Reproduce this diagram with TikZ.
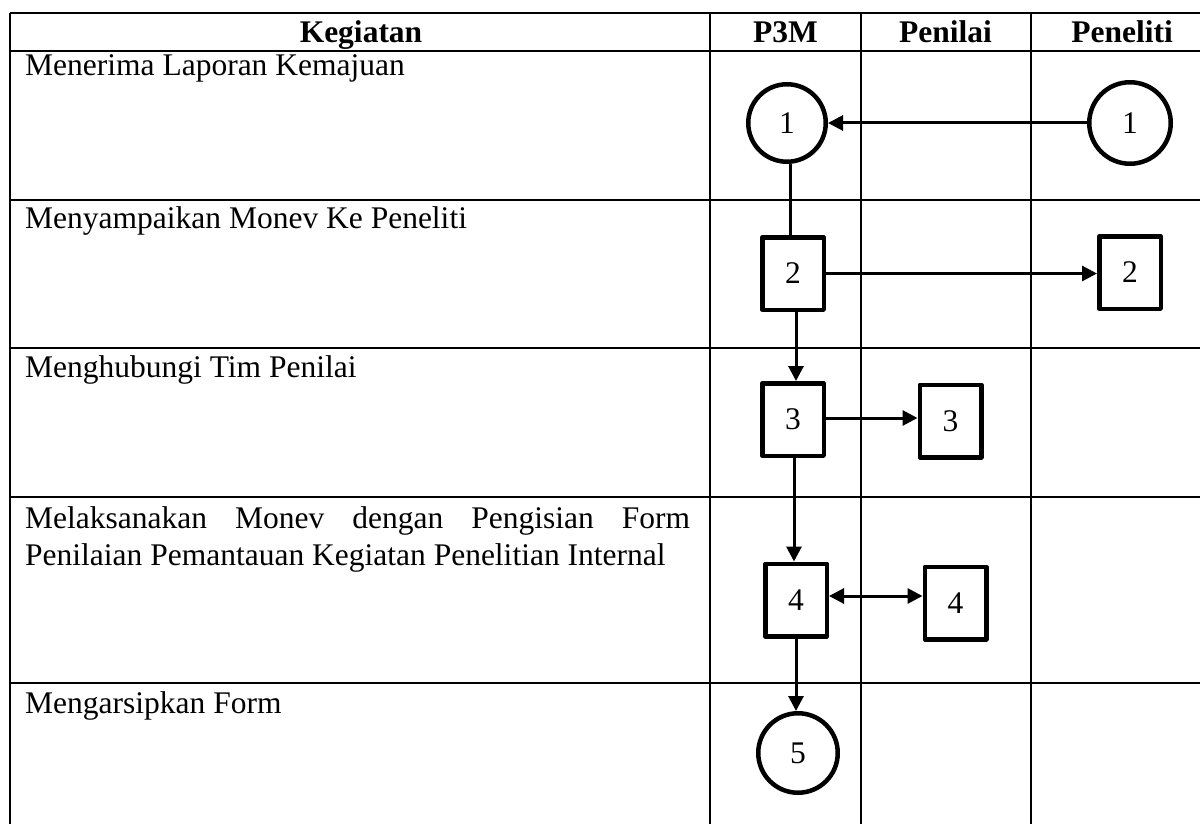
\documentclass[tikz,border=0pt]{standalone}
\usepackage{fontspec}
\setmainfont{Liberation Serif}
\usetikzlibrary{arrows.meta}
\begin{document}
\begin{tikzpicture}[x=1pt,y=-1pt,
  grid/.style={line width=2pt},
  txt/.style={font=\fontsize{31.5}{37}\selectfont, inner sep=0pt, anchor=base west},
  hdr/.style={font=\fontsize{31.5}{37}\selectfont\bfseries, inner sep=0pt, anchor=base},
  circ/.style={draw, circle, line width=4.5pt, inner sep=0pt, font=\fontsize{31.5}{37}\selectfont},
  box/.style={draw, rectangle, line width=4.5pt, line join=round, inner sep=0pt, minimum width=61.5pt, minimum height=72.5pt, font=\fontsize{31.5}{37}\selectfont},
  conn/.style={line width=3pt},
  arr/.style={line width=3pt, -{Triangle[length=15pt,width=15pt]}},
  darr/.style={line width=3pt, {Triangle[length=15pt,width=15pt]}-{Triangle[length=15pt,width=15pt]}}
]
\useasboundingbox (0,0) rectangle (1200,824);
% table grid
\draw[grid] (10,13) -- (1200,13);
\draw[grid] (10,51) -- (1200,51);
\draw[grid] (10,200) -- (1200,200);
\draw[grid] (10,348) -- (1200,348);
\draw[grid] (10,497) -- (1200,497);
\draw[grid] (10,683) -- (1200,683);
\draw[grid] (10,13) -- (10,824);
\draw[grid] (710,13) -- (710,824);
\draw[grid] (861,13) -- (861,824);
\draw[grid] (1031,13) -- (1031,824);
% headers
\node[hdr] (hK) at (361,43) {Kegiatan};
\node[hdr] (hP) at (785.5,43) {P3M};
\node[hdr] (hN) at (945.5,43) {Penilai};
\node[hdr] (hR) at (1122,43) {Peneliti};
% activities
\node[txt] (t1) at (25,76) {Menerima Laporan Kemajuan};
\node[txt] (t2) at (25,229) {Menyampaikan Monev Ke Peneliti};
\node[txt] (t3) at (25,377) {Menghubungi Tim Penilai};
\node[txt] (t4a) at (25,528) {\makebox[665pt][s]{Melaksanakan Monev dengan Pengisian Form}};
\node[txt] (t4b) at (25,565) {Penilaian Pemantauan Kegiatan Penelitian Internal};
\node[txt] (t5) at (25,713) {Mengarsipkan Form};
% shapes
\node[circ, minimum size=77.5pt] (c1a) at (787,123) {1};
\node[circ, minimum size=81.5pt] (c1b) at (1130,123) {1};
\node[box] (b2a) at (793,273.5) {2};
\node[box] (b2b) at (1130,272.5) {2};
\node[box] (b3a) at (793,419.5) {3};
\node[box] (b3b) at (950.5,421) {3};
\node[box] (b4a) at (796,600) {4};
\node[box] (b4b) at (955.5,603) {4};
\node[circ, minimum size=79.5pt] (c5) at (798,753) {5};
% connectors
\draw[arr] (c1b.west) -- (c1a.east);
\draw[conn] ([xshift=3pt]c1a.south) -- ([xshift=3pt]c1a.south |- b2a.north);
\draw[arr] ([xshift=3pt]b2a.south) -- ([xshift=3pt]b3a.north);
\draw[arr] (b2a.east) -- (b2a.east -| b2b.west);
\draw[arr] ([yshift=1.5pt]b3a.east) -- ([yshift=1.5pt]b3a.east -| b3b.west);
\draw[arr] ([xshift=1pt]b3a.south) -- ([xshift=-2pt]b4a.north);
\draw[darr] ([yshift=4pt]b4a.east) -- ([yshift=4pt]b4a.east -| b4b.west);
\draw[arr] (b4a.south) -- (b4a.south |- c5.north);
\end{tikzpicture}
\end{document}
